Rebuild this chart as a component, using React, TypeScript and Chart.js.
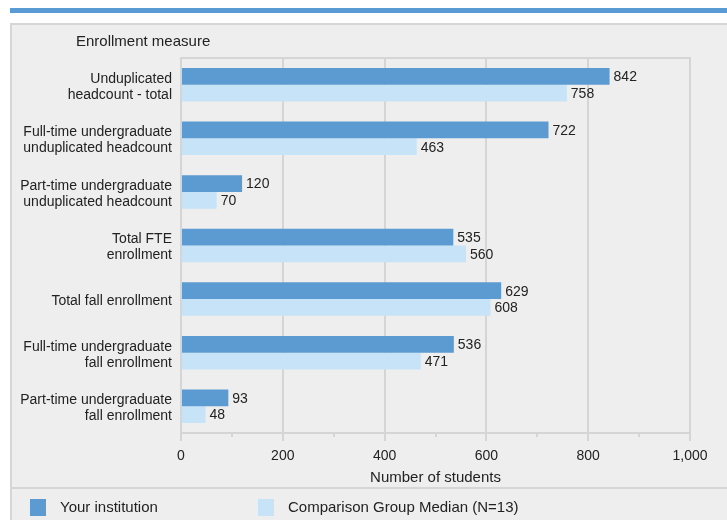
import React, { useEffect, useRef } from "react";
import { Chart, registerables } from "chart.js";

Chart.register(...registerables);

const categories: string[][] = [
  ["Unduplicated", "headcount - total"],
  ["Full-time undergraduate", "unduplicated headcount"],
  ["Part-time undergraduate", "unduplicated headcount"],
  ["Total FTE", "enrollment"],
  ["Total fall enrollment"],
  ["Full-time undergraduate", "fall enrollment"],
  ["Part-time undergraduate", "fall enrollment"],
];
const yourInstitution = [842, 722, 120, 535, 629, 536, 93];
const comparisonMedian = [758, 463, 70, 560, 608, 471, 48];
const seriesNames = ["Your institution", "Comparison Group Median (N=13)"];
const xMin = 0;
const xMax = 1000;
const xMajorStep = 200;
const xMinorStep = 100;
const axisTitle = "Number of students";
const yAxisHeading = "Enrollment measure";

const FONT = "'Liberation Sans', Arial, sans-serif";
const DARK = "#5b9bd1";
const LIGHT = "#c6e3f7";
const GRID = "#d5d5d5";
const TEXT = "#222222";

const decorPlugin = {
  id: "decor",
  beforeDraw(chart: any) {
    const ctx = chart.ctx;
    const w = chart.width;
    const h = chart.height;
    ctx.save();
    ctx.fillStyle = "#ffffff";
    ctx.fillRect(0, 0, w, h);
    // top blue band
    ctx.fillStyle = "#5b9bd5";
    ctx.fillRect(10, 8, w - 10, 5);
    // panel
    ctx.fillStyle = "#eeeeee";
    ctx.fillRect(10, 23, w - 10, h - 23);
    ctx.strokeStyle = "#d6d6d6";
    ctx.lineWidth = 2;
    ctx.beginPath();
    ctx.moveTo(11, h);
    ctx.lineTo(11, 24);
    ctx.lineTo(w, 24);
    ctx.stroke();
    // separator above legend
    ctx.beginPath();
    ctx.moveTo(10, 488);
    ctx.lineTo(w, 488);
    ctx.stroke();
    // heading
    ctx.fillStyle = TEXT;
    ctx.font = `15px ${FONT}`;
    ctx.textBaseline = "middle";
    ctx.textAlign = "left";
    ctx.fillText(yAxisHeading, 76, 42);
    ctx.restore();
  },
  afterDraw(chart: any) {
    const ctx = chart.ctx;
    const area = chart.chartArea;
    const xs = chart.scales.x;
    ctx.save();
    // top border of plot
    ctx.strokeStyle = GRID;
    ctx.lineWidth = 2;
    ctx.beginPath();
    ctx.moveTo(area.left, area.top);
    ctx.lineTo(area.right + 1, area.top);
    ctx.stroke();
    // tick marks (major + minor)
    for (let v = xMin; v <= xMax; v += xMinorStep) {
      const px = Math.round(xs.getPixelForValue(v));
      const len = v % xMajorStep === 0 ? 8 : 4;
      ctx.beginPath();
      ctx.moveTo(px, area.bottom);
      ctx.lineTo(px, area.bottom + len);
      ctx.stroke();
    }
    // legend
    const colors = [DARK, LIGHT];
    const positions = [30, 258];
    ctx.font = `15px ${FONT}`;
    ctx.textBaseline = "middle";
    ctx.textAlign = "left";
    seriesNames.forEach((name, i) => {
      ctx.fillStyle = colors[i];
      ctx.fillRect(positions[i], 499, 16, 17);
      ctx.fillStyle = TEXT;
      ctx.fillText(name, positions[i] + 30, 508);
    });
    ctx.restore();
  },
  afterDatasetsDraw(chart: any) {
    const ctx = chart.ctx;
    ctx.save();
    ctx.font = `14px ${FONT}`;
    ctx.fillStyle = TEXT;
    ctx.textBaseline = "middle";
    ctx.textAlign = "left";
    chart.data.datasets.forEach((ds: any, di: number) => {
      const meta = chart.getDatasetMeta(di);
      meta.data.forEach((el: any, i: number) => {
        ctx.fillText(String(ds.data[i]), el.x + 4, el.y + 1);
      });
    });
    ctx.restore();
  },
};

export default function App() {
  const ref = useRef<HTMLCanvasElement | null>(null);
  useEffect(() => {
    if (!ref.current) return;
    const chart = new Chart(ref.current, {
      type: "bar",
      data: {
        labels: categories,
        datasets: [
          {
            label: seriesNames[0],
            data: yourInstitution,
            backgroundColor: DARK,
            categoryPercentage: 0.625,
            barPercentage: 1,
          },
          {
            label: seriesNames[1],
            data: comparisonMedian,
            backgroundColor: LIGHT,
            categoryPercentage: 0.625,
            barPercentage: 1,
          },
        ],
      },
      options: {
        indexAxis: "y",
        animation: false,
        responsive: false,
        devicePixelRatio: 1,
        layout: { padding: { left: 0, right: 37, top: 58, bottom: 0 } },
        plugins: {
          legend: { display: false },
          tooltip: { enabled: false },
        },
        scales: {
          x: {
            type: "linear",
            position: "bottom",
            min: xMin,
            max: xMax,
            grid: {
              color: GRID,
              lineWidth: 2,
              drawTicks: false,
            },
            border: { display: true, color: GRID, width: 2 },
            ticks: {
              stepSize: xMajorStep,
              padding: 15,
              color: TEXT,
              font: { family: FONT, size: 14 },
              callback: (v: any) => Number(v).toLocaleString("en-US"),
            },
            title: {
              display: true,
              text: axisTitle,
              color: TEXT,
              font: { family: FONT, size: 15 },
              padding: { top: 0, bottom: 33 },
            },
            afterFit: (scale: any) => {
              scale.height = 87;
            },
          },
          y: {
            grid: { display: false, drawTicks: false },
            border: { display: true, color: GRID, width: 2 },
            ticks: {
              padding: 9,
              labelOffset: 2,
              color: TEXT,
              font: { family: FONT, size: 14, lineHeight: "16px" },
            },
            afterFit: (scale: any) => {
              scale.width = 181;
            },
          },
        },
      },
      plugins: [decorPlugin],
    } as any);
    return () => chart.destroy();
  }, []);
  return (
    <div style={{ position: "absolute", left: 0, top: 0, width: 727, height: 520 }}>
      <canvas ref={ref} width={727} height={520} style={{ display: "block" }} />
    </div>
  );
}
